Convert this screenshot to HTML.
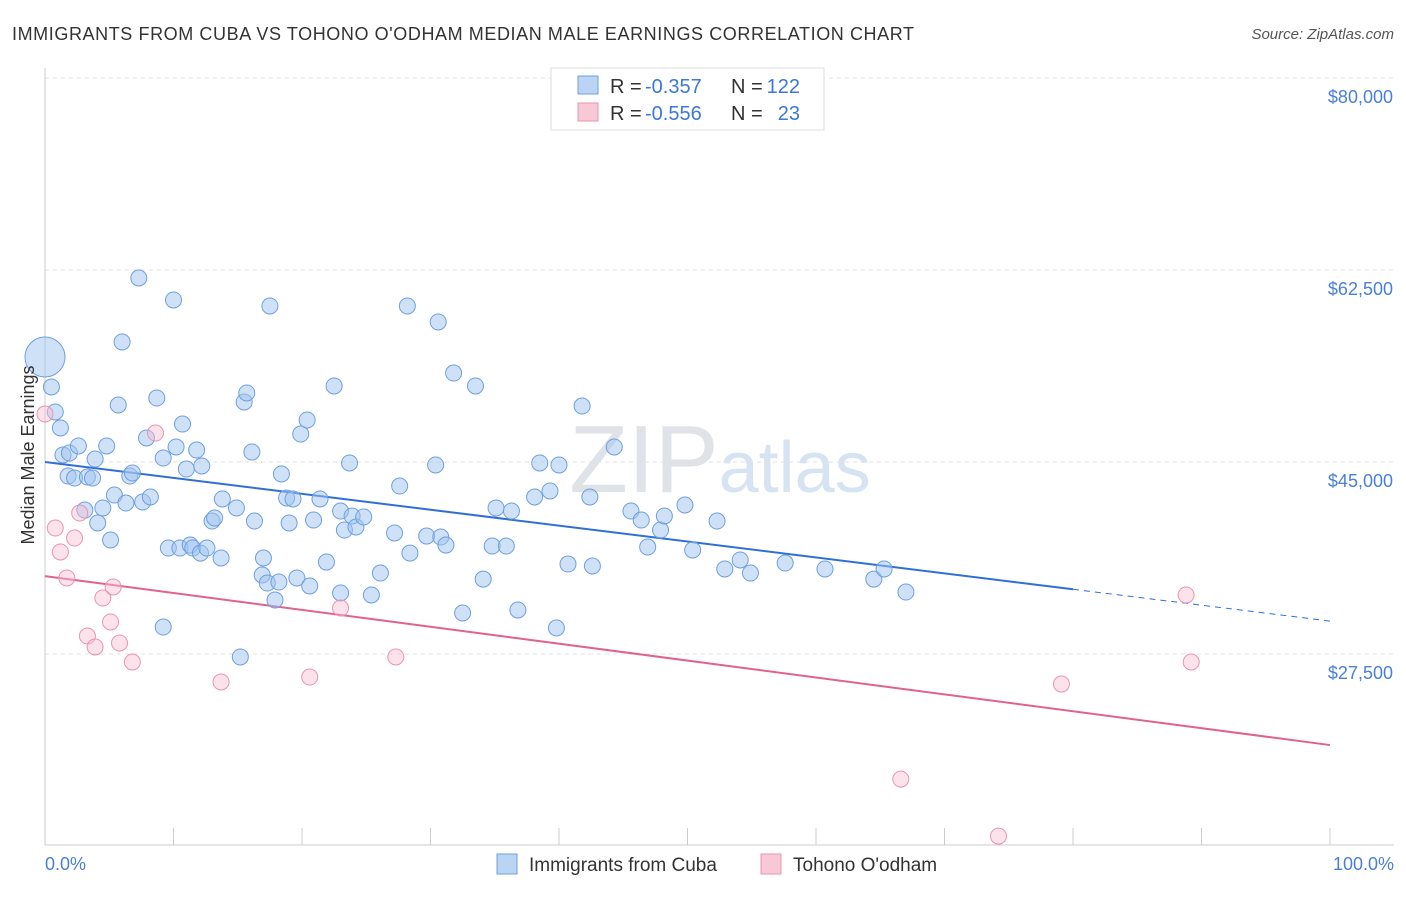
<!DOCTYPE html>
<html><head><meta charset="utf-8">
<style>
body{margin:0;background:#fff;font-family:"Liberation Sans",sans-serif;}
svg text{font-family:"Liberation Sans",sans-serif;}
</style></head>
<body>
<svg id="chart" width="1406" height="892" xmlns="http://www.w3.org/2000/svg">
<text x="12" y="40" font-size="18" fill="#333" textLength="902" lengthAdjust="spacing">IMMIGRANTS FROM CUBA VS TOHONO O'ODHAM MEDIAN MALE EARNINGS CORRELATION CHART</text>
<text x="1394" y="39" font-size="15" fill="#555" text-anchor="end" font-style="italic">Source: ZipAtlas.com</text>
<text x="720" y="492" font-size="96" fill="#e4e8ee" text-anchor="middle" font-family="Liberation Serif"><tspan fill="#dfe2e6">ZIP</tspan><tspan fill="#d5e3f3" font-family="Liberation Sans" font-size="72">atlas</tspan></text>
<g id="grid"></g>
<g id="axes"></g>
<g id="trends"></g>
<g id="points"></g>
<text transform="translate(34,455) rotate(-90)" font-size="18" fill="#333" text-anchor="middle">Median Male Earnings</text>
<text x="45" y="870" font-size="18" fill="#4a7fd6">0.0%</text>
<text x="1394" y="870" font-size="18" fill="#4a7fd6" text-anchor="end">100.0%</text>
<g>
<rect x="551" y="68" width="273" height="62" fill="#fff" stroke="#ddd"/>
<rect x="578" y="76" width="20" height="18" fill="#bcd4f4" stroke="#6ea0de"/>
<rect x="578" y="103" width="20" height="18" fill="#f9c8d7" stroke="#e895b0"/>
<text x="610" y="93" font-size="20" fill="#333">R =</text>
<text x="645" y="93" font-size="20" fill="#3b78d8">-0.357</text>
<text x="731" y="93" font-size="20" fill="#333">N =</text>
<text x="800" y="93" font-size="20" fill="#3b78d8" text-anchor="end">122</text>
<text x="610" y="120" font-size="20" fill="#333">R =</text>
<text x="645" y="120" font-size="20" fill="#3b78d8">-0.556</text>
<text x="731" y="120" font-size="20" fill="#333">N =</text>
<text x="800" y="120" font-size="20" fill="#3b78d8" text-anchor="end">23</text>
</g>
<g>
<rect x="497" y="854" width="20" height="20" fill="#bcd4f4" stroke="#6ea0de"/>
<text x="529" y="871" font-size="19" fill="#333">Immigrants from Cuba</text>
<rect x="761" y="854" width="20" height="20" fill="#f9c8d7" stroke="#e895b0"/>
<text x="793" y="871" font-size="19" fill="#333">Tohono O'odham</text>
</g>
</svg>
<script>
const yTicks=[80000,62500,45000,27500];
const yTickLabels=["$80,000","$62,500","$45,000","$27,500"];
const xTicks=[0,10,20,30,40,50,60,70,80,90,100];
const cubaX=[0,0.5,0.8,1.2,1.4,1.8,1.9,2.3,2.6,3.1,3.3,3.7,3.9,4.1,4.5,4.8,5.1,5.4,5.7,6.0,6.3,6.6,6.8,7.3,7.6,7.9,8.2,8.7,9.2,9.6,10.0,10.2,10.5,10.7,11.0,11.3,11.5,11.8,12.1,12.2,12.6,13.0,13.2,13.7,13.8,14.9,15.2,15.5,15.7,16.1,16.3,16.9,17.0,17.3,17.5,17.9,18.2,18.4,18.8,19.0,19.3,19.6,19.9,20.4,20.6,20.9,21.4,21.9,22.5,23.0,23.0,23.3,23.7,23.9,24.2,24.8,25.4,26.1,27.2,27.6,28.2,28.4,29.7,30.4,30.6,30.8,31.2,31.8,32.5,33.5,34.1,34.8,35.1,35.9,36.3,36.8,38.1,38.5,39.3,39.8,40.0,40.7,41.8,42.4,42.6,44.3,45.6,46.4,46.9,47.9,48.2,49.8,50.4,52.3,52.9,54.1,54.9,57.6,60.7,64.5,65.3,67.0,9.2];
const cubaY=[54.57,51.84,49.56,48.1,45.64,43.72,45.82,43.54,46.46,40.62,43.63,43.54,45.27,39.44,40.81,46.46,37.89,41.99,50.2,55.94,41.26,43.72,44.0,61.77,41.35,47.19,41.81,50.83,45.36,37.16,59.77,46.37,37.16,48.46,44.36,37.43,37.16,46.09,36.7,44.64,37.16,39.62,39.9,36.25,41.63,40.81,27.23,50.47,51.29,45.91,39.62,34.7,36.25,33.97,59.22,32.42,34.06,43.91,41.72,39.44,41.63,34.43,47.55,48.83,33.7,39.71,41.63,35.88,51.93,40.53,33.06,38.8,44.91,40.08,39.08,39.99,32.88,34.88,38.53,42.81,59.22,36.7,38.25,44.73,57.76,38.16,37.43,53.11,31.24,51.93,34.33,37.34,40.81,37.34,40.53,31.51,41.81,44.91,42.36,29.87,44.73,35.7,50.1,41.81,35.52,46.37,40.53,39.71,37.25,38.8,40.08,41.08,36.98,39.62,35.25,36.07,34.88,35.79,35.25,34.33,35.25,33.15,29.96];
const tohonoX=[0,0.8,1.2,1.7,2.3,2.7,3.3,3.9,4.5,5.1,5.3,5.8,6.8,8.6,13.7,20.6,23.0,27.3,66.6,74.2,79.1,88.8,89.2];
const tohonoY=[49.38,38.98,36.8,34.43,38.07,40.35,29.14,28.14,32.6,30.42,33.61,28.5,26.77,47.64,24.95,25.4,31.69,27.23,16.1,10.9,24.76,32.88,26.77];
const cubaTrend=[45.0,30.5];
const cubaSolidEnd=80;
const tohonoTrend=[34.6,19.2];

const NS="http://www.w3.org/2000/svg";
const X=p=>45+p*12.85;
const Y=v=>462-(v-45000)*192/17500;
const YK=k=>Y(k*1000);
function mk(tag,attrs,parent){const e=document.createElementNS(NS,tag);for(const k in attrs)e.setAttribute(k,attrs[k]);document.getElementById(parent).appendChild(e);return e;}

yTicks.forEach((t,i)=>{
 const l=mk('line',{x1:45,x2:1394,y1:Y(t),y2:Y(t),stroke:'#e2e2e2','stroke-dasharray':'4,4'},'grid');
 
 
 const tx=mk('text',{x:1393,y:Y(t)+25,'font-size':18,fill:'#4a7fd6','text-anchor':'end'},'grid');
 tx.textContent=yTickLabels[i];
 
 
});
const ax=mk('line',{x1:45,x2:1394,y1:845,y2:845,stroke:'#ccc'},'axes');


const ay=mk('line',{x1:45,x2:45,y1:68,y2:845,stroke:'#ccc'},'axes');


xTicks.forEach(t=>{
 const l=mk('line',{x1:X(t),x2:X(t),y1:828,y2:845,stroke:'#ccc'},'axes');
 
 
});
function tv(tr,p){return tr[0]+(tr[1]-tr[0])*p/100;}
let t1=mk('line',{x1:X(0),y1:YK(tv(cubaTrend,0)),x2:X(cubaSolidEnd),y2:YK(tv(cubaTrend,cubaSolidEnd)),stroke:'#2f6fd6','stroke-width':2},'trends');


let t2=mk('line',{x1:X(cubaSolidEnd),y1:YK(tv(cubaTrend,cubaSolidEnd)),x2:X(100),y2:YK(tv(cubaTrend,100)),stroke:'#2f6fd6','stroke-width':1,'stroke-dasharray':'6,5'},'trends');


let t3=mk('line',{x1:X(0),y1:YK(tv(tohonoTrend,0)),x2:X(100),y2:YK(tv(tohonoTrend,100)),stroke:'#e0628f','stroke-width':2},'trends');



cubaX.forEach((x,i)=>{
 const c=mk('circle',{cx:X(x),cy:YK(cubaY[i]),r:i===0?20:8,fill:'rgba(160,196,240,0.5)',stroke:'#6ea0de','stroke-width':1},'points');
 
 
});
tohonoX.forEach((x,i)=>{
 const c=mk('circle',{cx:X(x),cy:YK(tohonoY[i]),r:8,fill:'rgba(248,190,208,0.45)',stroke:'#e895b0','stroke-width':1},'points');
 
 
});
</script>
</body></html>
